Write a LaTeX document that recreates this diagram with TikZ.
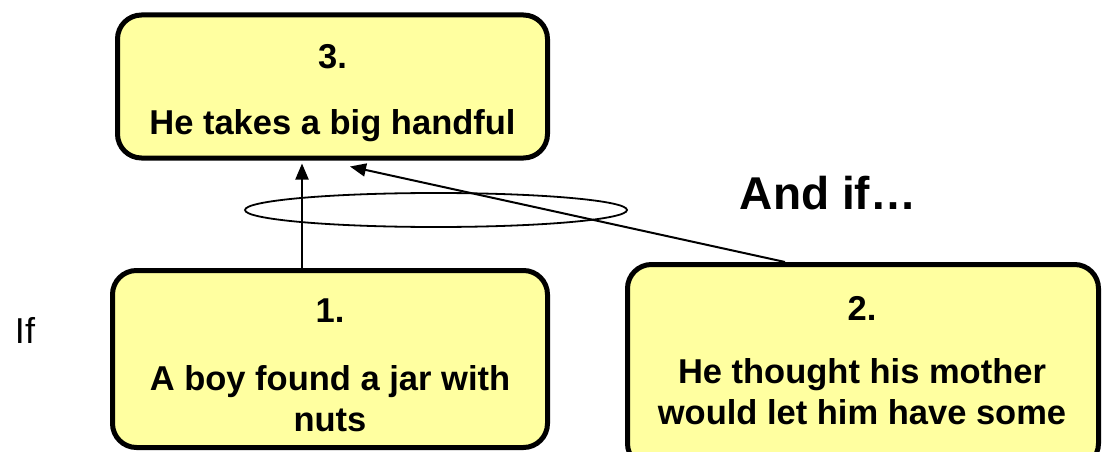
\documentclass[tikz,border=0pt]{standalone}
\usepackage{fontspec}
\setmainfont{Liberation Sans}
\usetikzlibrary{arrows.meta,calc}
\definecolor{boxfill}{RGB}{255,255,160}
\tikzset{
  event/.style={draw=black, line width=5pt, fill=boxfill, rounded corners=24pt,
    inner sep=0pt},
  eventtext/.style={align=center, inner sep=0pt,
    font=\fontsize{34.5}{41}\selectfont\bfseries},
  link/.style={line width=2pt, -{Triangle[length=16pt,width=13pt]}},
}
\begin{document}
\begin{tikzpicture}[x=1pt,y=-1pt]
\useasboundingbox (0,0) rectangle (1104,452);

% event boxes
\node[event, minimum width=430pt, minimum height=143pt] (b3) at (332.5,86.5) {};
\node[event, minimum width=435pt, minimum height=177pt] (b1) at (330,359) {};
\node[event, minimum width=471pt, minimum height=203pt] (b2) at (863,366) {};

% box contents
\node[eventtext] (t3) at (332.5,93) {3.\\[25pt]He takes a big handful};
\node[eventtext] (t1) at (330,365) {1.\\[27pt]A boy found a jar with\\nuts};
\node[eventtext] (t2) at (862,360.5) {2.\\[22pt]He thought his mother\\would let him have some};

% side labels
\node[font=\fontsize{46}{50}\selectfont\bfseries] (andif) at (828,193) {And if…};
\node[font=\fontsize{36}{40}\selectfont] (if) at (25,330) {If};

% grouping ellipse around the two premises
\draw[line width=1.8pt] (436,210) ellipse [x radius=191pt, y radius=17pt];

% causal links
\coordinate (c1) at (302,0);
\coordinate (c2) at (785,0);
\coordinate (c3) at (350,0);
\draw[link, shorten >=3pt] (c1 |- b1.north) -- (c1 |- b3.south);
\draw[link] (c2 |- b2.north) -- ($(c3 |- b3.south)+(0,6)$);
\end{tikzpicture}
\end{document}
